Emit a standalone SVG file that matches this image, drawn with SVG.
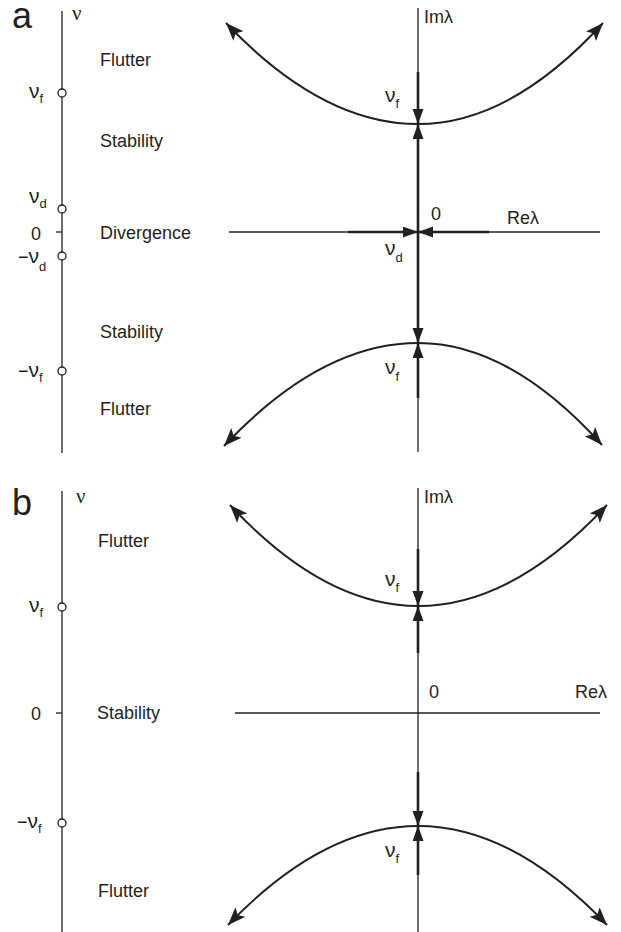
<svg xmlns="http://www.w3.org/2000/svg" width="621" height="932" viewBox="0 0 621 932">
<style>
text{font-family:"Liberation Sans",Arial,sans-serif;fill:#231f20;font-size:18px}
.lab{font-size:36px}
.nu{font-family:"Liberation Serif","Times New Roman",serif;font-size:21px}
.g{font-size:21px}
.sub{font-size:13px}
.axis{stroke:#231f20;stroke-width:1.3;fill:none}
.thick{stroke:#231f20;stroke-width:2.6;fill:none}
.curve{stroke:#231f20;stroke-width:2;fill:none}
.pt{fill:#fff;stroke:#231f20;stroke-width:1.3}
</style>
<defs>
<marker id="tri" markerUnits="userSpaceOnUse" markerWidth="16" markerHeight="12" refX="15" refY="5.5" orient="auto"><path d="M0,0 L15,5.5 L0,11 z" fill="#231f20"/></marker>
<marker id="big" markerUnits="userSpaceOnUse" markerWidth="20" markerHeight="16" refX="18" refY="7" orient="auto-start-reverse"><path d="M0,0 L18,7 L0,14 L4,7 z" fill="#231f20"/></marker>
</defs>

<g id="panel-a-label"><text class="lab" x="12" y="28">a</text></g>
<g id="panel-b-label"><text class="lab" x="12" y="515">b</text></g>

<g id="a-param-axis">
<line class="axis" x1="62" y1="11" x2="62" y2="453"/>
<line class="axis" x1="56" y1="232" x2="62" y2="232"/>
<text class="nu" x="72" y="20">ν</text>
<circle class="pt" cx="62" cy="93" r="4"/>
<circle class="pt" cx="62" cy="209" r="4"/>
<circle class="pt" cx="62" cy="256" r="4"/>
<circle class="pt" cx="62" cy="371" r="4"/>
<text x="29" y="98"><tspan class="g">ν</tspan><tspan class="sub" dy="5">f</tspan></text>
<text x="29" y="203"><tspan class="g">ν</tspan><tspan class="sub" dy="5">d</tspan></text>
<text x="31" y="240">0</text>
<text x="18" y="263">−<tspan class="g">ν</tspan><tspan class="sub" dy="8">d</tspan></text>
<text x="18" y="377">−<tspan class="g">ν</tspan><tspan class="sub" dy="5">f</tspan></text>
<text x="100" y="66">Flutter</text>
<text x="100" y="147">Stability</text>
<text x="100" y="239">Divergence</text>
<text x="100" y="338">Stability</text>
<text x="100" y="415">Flutter</text>
</g>

<g id="b-param-axis">
<line class="axis" x1="62" y1="491" x2="62" y2="932"/>
<line class="axis" x1="56" y1="713" x2="62" y2="713"/>
<text class="nu" x="76" y="503">ν</text>
<circle class="pt" cx="62" cy="607" r="4"/>
<circle class="pt" cx="62" cy="823" r="4"/>
<text x="29" y="612"><tspan class="g">ν</tspan><tspan class="sub" dy="5">f</tspan></text>
<text x="31" y="720">0</text>
<text x="17" y="828">−<tspan class="g">ν</tspan><tspan class="sub" dy="5">f</tspan></text>
<text x="98" y="547">Flutter</text>
<text x="97" y="719">Stability</text>
<text x="98" y="897">Flutter</text>
</g>

<g id="a-plane-axes">
<line class="axis" x1="418" y1="8" x2="418" y2="452"/>
<line class="axis" x1="229" y1="232" x2="600" y2="232"/>
<text x="424" y="23">Imλ</text>
<text x="507" y="224">Reλ</text>
<text x="431" y="220">0</text>
<text x="385" y="102"><tspan class="g">ν</tspan><tspan class="sub" dy="6">f</tspan></text>
<text x="385" y="255"><tspan class="g">ν</tspan><tspan class="sub" dy="7">d</tspan></text>
<text x="385" y="374"><tspan class="g">ν</tspan><tspan class="sub" dy="7">f</tspan></text>
</g>

<g id="b-plane-axes">
<line class="axis" x1="418" y1="488" x2="418" y2="932"/>
<line class="axis" x1="235" y1="713" x2="600" y2="713"/>
<text x="424" y="503">Imλ</text>
<text x="575" y="698">Reλ</text>
<text x="429" y="698">0</text>
<text x="385" y="586"><tspan class="g">ν</tspan><tspan class="sub" dy="6">f</tspan></text>
<text x="385" y="857"><tspan class="g">ν</tspan><tspan class="sub" dy="6">f</tspan></text>
</g>

<g id="connectors">
<path class="curve" d="M226,23 Q322,124 418,124 Q510.5,124 603,23" marker-start="url(#big)" marker-end="url(#big)"/>
<path class="curve" d="M224,446 Q321,343 418,343 Q510,343 602,445" marker-start="url(#big)" marker-end="url(#big)"/>
<line class="thick" x1="418" y1="72" x2="418" y2="124" marker-end="url(#tri)"/>
<line class="thick" x1="418" y1="232" x2="418" y2="124" marker-end="url(#tri)"/>
<line class="thick" x1="348" y1="232" x2="418" y2="232" marker-end="url(#tri)"/>
<line class="thick" x1="489" y1="232" x2="418" y2="232" marker-end="url(#tri)"/>
<line class="thick" x1="418" y1="232" x2="418" y2="343" marker-end="url(#tri)"/>
<line class="thick" x1="418" y1="398" x2="418" y2="343" marker-end="url(#tri)"/>

<path class="curve" d="M230,505 Q324,606 418,606 Q512.5,606 607,505" marker-start="url(#big)" marker-end="url(#big)"/>
<path class="curve" d="M228,925 Q323,826 418,826 Q512.5,826 607,925" marker-start="url(#big)" marker-end="url(#big)"/>
<line class="thick" x1="418" y1="549" x2="418" y2="606" marker-end="url(#tri)"/>
<line class="thick" x1="418" y1="653" x2="418" y2="606" marker-end="url(#tri)"/>
<line class="thick" x1="418" y1="772" x2="418" y2="826" marker-end="url(#tri)"/>
<line class="thick" x1="418" y1="875" x2="418" y2="826" marker-end="url(#tri)"/>
</g>
</svg>
